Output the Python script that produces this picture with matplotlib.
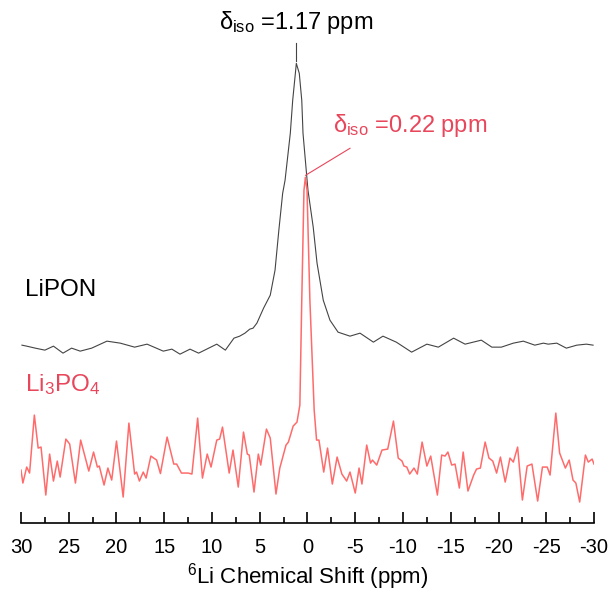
import matplotlib.pyplot as plt
from matplotlib.ticker import MultipleLocator

plt.rcParams['font.family'] = ['Liberation Sans', 'DejaVu Sans']
plt.rcParams['mathtext.fontset'] = 'custom'
plt.rcParams['mathtext.rm'] = 'Liberation Sans'
plt.rcParams['mathtext.it'] = 'Liberation Sans'

# 6Li MAS NMR, Li3PO4 (noisy)
li3po4_ppm = [30.0, 29.8, 29.4, 29.1, 28.6, 28.2, 27.9, 27.4, 27.0, 26.6, 26.2, 25.9,
              25.3, 24.9, 24.3, 23.75, 22.9, 22.4, 22.0, 21.8, 21.3, 20.9, 20.5, 20.0,
              19.3, 18.7, 18.1, 17.9, 17.6, 17.2, 16.9, 16.4, 15.8, 15.4, 14.7, 14.0,
              13.7, 13.2, 12.5, 12.1, 11.5, 11.0, 10.5, 10.1, 9.5, 9.2, 8.9, 8.2,
              7.8, 7.25, 6.7, 6.3, 6.1, 5.6, 5.15, 4.9, 4.3, 3.9, 3.3, 2.9,
              2.25, 2.0, 1.5, 1.1, 0.8, 0.6, 0.37, 0.22, 0.05, -0.25, -0.7, -0.95,
              -1.2, -1.7, -2.1, -2.6, -3.1, -3.6, -4.1, -4.45, -5.0, -5.4, -5.7, -6.2,
              -6.6, -6.8, -7.25, -7.8, -8.4, -9.0, -9.5, -9.9, -10.1, -10.4, -10.7, -11.15,
              -11.5, -12.0, -12.5, -12.9, -13.6, -14.05, -14.4, -14.7, -15.1, -15.45, -15.9, -16.3,
              -16.8, -17.4, -17.7, -18.1, -18.6, -19.0, -19.4, -19.8, -20.2, -20.7, -21.2, -21.55,
              -22.0, -22.5, -23.0, -23.5, -24.1, -24.6, -25.1, -25.4, -26.0, -26.4, -27.0, -27.4,
              -27.8, -28.1, -28.5, -29.1, -29.4, -29.8, -30.0]
li3po4_int = [0, -13, 3, -3, 55, 22, 23, -25, 16, -11, 9, -7,
              31, 26, -13, 30, -1, 18, 3, 4, -15, 2, -10, 29,
              -27, 47, -4, -2, -11, -2, -8, 14, 10, -3.5, 33, 6,
              6, -3, -3, -4, 52, -8, 16, 3, 30, 31, 43, -3,
              20, -17, 38, 16, 15, -22, 16, 5, 41, 32, -24, 2,
              25, 28, 44, 48, 65, 170, 280, 293, 280, 170, 60, 30,
              30, -2, 22, -14, 13, -4, -11, -2, -23, 2, -14, 25,
              7, 10, 5, 20, 21, 49, 12, 9, 4, 3, -4, 2,
              -4, 28, 4, 14, -25, 15, 14, 18, 5, 6, -18, 18,
              -21, -5, 1, 2, 28, 12, 9, -3, 13, -12, 12, 8,
              23, -30, 4, 6, -31, 3, 3, -5, 57, 17, 2, 10,
              -10, -13, -32, 15, 8, 11, 6]

# LiPON
lipon_ppm = [29.9, 29.4, 28.5, 27.5, 26.6, 25.6, 24.7, 23.8, 22.6, 21.0, 19.6, 18.1,
             16.8, 15.1, 14.2, 13.35, 12.3, 11.4, 9.5, 8.6, 7.7, 7.1, 6.55, 6.05,
             5.7, 5.3, 4.6, 3.9, 3.4, 3.0, 2.6, 2.35, 1.8, 1.55, 1.27, 1.17,
             0.86, 0.6, 0.47, -0.05, -0.6, -1.0, -1.65, -2.35, -3.2, -4.45, -5.5, -6.9,
             -7.9, -9.3, -10.9, -12.5, -13.7, -15.3, -16.5, -18.2, -19.3, -20.3, -21.55, -22.6,
             -23.8, -24.7, -25.2, -26.1, -27.1, -28.2, -29.2, -29.9]
lipon_int = [1, 0, -2, -4, 0, -7, -2, -5, -2, 5, 3, -1,
             2, -5, -3, -8, -3, -7, 2, -4, 8, 10, 13, 17,
             18, 23, 38, 51, 76, 116, 153, 166, 213, 246, 273, 283,
             273, 246, 213, 156, 119, 83, 46, 26, 14, 10, 13, 4,
             10, 4, -6, 2, -1, 8, 2, 6, -1, -1, 3, 5,
             1, 3, 2, 3, -2, 1, 2, 1]

lipon_offset = 124

fig = plt.figure(figsize=(6.08, 5.94), dpi=100)
ax = fig.add_axes([0.0345, 0.1195, 0.9425, 0.863])

red_line = '#ff6b6b'
red_text = '#e8465b'

ax.plot(lipon_ppm, [v + lipon_offset for v in lipon_int], color='#444444', lw=0.8)
ax.plot(li3po4_ppm, li3po4_int, color=red_line, lw=1.1)

ax.set_xlim(30, -30)
ax.set_ylim(-53, 460)

for s in ['top', 'left', 'right']:
    ax.spines[s].set_visible(False)
ax.spines['bottom'].set_linewidth(1.2)
ax.set_yticks([])
ax.xaxis.set_major_locator(MultipleLocator(5))
ax.xaxis.set_minor_locator(MultipleLocator(2.5))
ax.tick_params(axis='x', which='major', direction='in', length=8, width=1.2,
               labelsize=14.5, pad=11)
ax.tick_params(axis='x', which='minor', direction='in', length=4, width=1.2)
ax.set_xticklabels([str(int(t)) for t in ax.get_xticks()])
ax.set_xlabel('$^6$Li Chemical Shift (ppm)', fontsize=16, labelpad=3)

# annotations
ax.plot([1.17, 1.17], [409, 427], color='#444444', lw=0.8)
ax.text(1.17, 448, r'$\delta_{\rm iso}$ =1.17 ppm', ha='center', va='center', fontsize=17,
        color='black')
ax.plot([-4.45, 0.2], [322, 295], color=red_text, lw=0.8)
ax.text(-2.7, 345, r'$\delta_{\rm iso}$ =0.22 ppm', ha='left', va='center', fontsize=17,
        color=red_text)

ax.text(29.6, 180, 'LiPON', ha='left', va='center', fontsize=17.5, color='black')
ax.text(29.6, 86, 'Li$_3$PO$_4$', ha='left', va='center', fontsize=17.5, color=red_text)

fig.savefig('out.png', dpi=100)
